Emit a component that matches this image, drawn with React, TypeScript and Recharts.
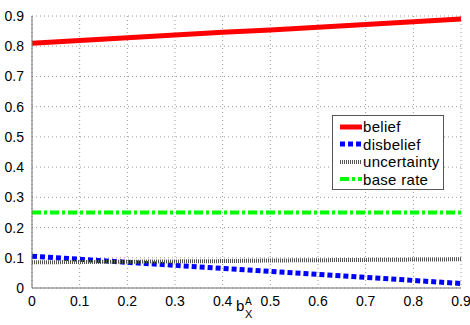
import { LineChart, Line, XAxis, YAxis, CartesianGrid } from 'recharts';

// x values (b_X^A)
const xValues = [0, 0.1, 0.2, 0.3, 0.4, 0.5, 0.6, 0.7, 0.8, 0.9];
const belief = [0.81, 0.819, 0.828, 0.837, 0.846, 0.854, 0.863, 0.872, 0.881, 0.89];
const disbelief = [0.105, 0.095, 0.085, 0.075, 0.065, 0.055, 0.045, 0.035, 0.025, 0.015];
const uncertainty = [0.085, 0.086, 0.087, 0.088, 0.089, 0.091, 0.092, 0.093, 0.094, 0.095];
const baseRate = [0.25, 0.25, 0.25, 0.25, 0.25, 0.25, 0.25, 0.25, 0.25, 0.25];

const xTicks = [0, 0.1, 0.2, 0.3, 0.4, 0.5, 0.6, 0.7, 0.8, 0.9];
const yTicks = [0, 0.1, 0.2, 0.3, 0.4, 0.5, 0.6, 0.7, 0.8, 0.9];

const FONT = 'Liberation Sans, Arial, sans-serif';
const AXIS_COLOR = '#707070';

const series = [
  { key: 'belief', label: 'belief', color: '#ff0000', dash: undefined as string | undefined, width: 5 },
  { key: 'disbelief', label: 'disbelief', color: '#0000ff', dash: '5 3', width: 5 },
  { key: 'uncertainty', label: 'uncertainty', color: '#555555', dash: '1 1', width: 4 },
  { key: 'baseRate', label: 'base rate', color: '#00ff00', dash: '9 3 3 3', width: 4 },
];

const data = xValues.map((x, i) => ({
  x,
  belief: belief[i],
  disbelief: disbelief[i],
  uncertainty: uncertainty[i],
  baseRate: baseRate[i],
}));

const fmt = (v: number) => (v === 0 ? '0' : String(Number(v.toFixed(1))));

// x axis title b_X^A, drawn over the chart
const XLabel = () => (
  <svg width={470} height={325} style={{ position: 'absolute', left: 0, top: 0, pointerEvents: 'none' }}>
    <g fontFamily={FONT} fill="#000">
      <text x={236} y={311} fontSize={15}>b</text>
      <text x={245} y={318} fontSize={11}>X</text>
      <text x={245} y={305} fontSize={10}>A</text>
    </g>
  </svg>
);

const LegendBox = () => (
  <div
    style={{
      position: 'absolute',
      left: 332,
      top: 115,
      width: 112,
      height: 75,
      border: '1px solid #555',
      background: '#fff',
      boxSizing: 'border-box',
      fontFamily: FONT,
      fontSize: 15,
      letterSpacing: 0.3,
      padding: '2px 0 0 7px',
    }}
  >
    {series.map((s) => (
      <div key={s.key} style={{ display: 'flex', alignItems: 'center', height: 17.5 }}>
        <svg width={22} height={8}>
          <line x1={0} y1={4} x2={22} y2={4} stroke={s.color} strokeWidth={s.width} strokeDasharray={s.dash} />
        </svg>
        <span style={{ marginLeft: 1 }}>{s.label}</span>
      </div>
    ))}
  </div>
);

export default function App() {
  return (
    <div style={{ position: 'absolute', left: 0, top: 0, width: 470, height: 325, background: '#fff' }}>
      <LineChart width={470} height={325} data={data} margin={{ top: 16, right: 9, left: 0, bottom: 0 }}>
        <CartesianGrid stroke="#9a9a9a" strokeDasharray="1 3" />
        <XAxis
          dataKey="x"
          type="number"
          domain={[0, 0.9]}
          ticks={xTicks}
          tickFormatter={fmt}
          height={37}
          tickLine={false}
          tickMargin={2}
          stroke={AXIS_COLOR}
          tick={{ fill: '#000', fontSize: 14, fontFamily: FONT }}
        />
        <XAxis xAxisId="top" orientation="top" dataKey="x" type="number" domain={[0, 0.9]} height={0} tick={false} tickLine={false} stroke={AXIS_COLOR} />
        <YAxis
          domain={[0, 0.9]}
          ticks={yTicks}
          tickFormatter={fmt}
          width={32}
          tickLine={false}
          tickMargin={2}
          stroke={AXIS_COLOR}
          tick={{ fill: '#000', fontSize: 14, fontFamily: FONT }}
        />
        <YAxis yAxisId="right" orientation="right" domain={[0, 0.9]} width={0} tick={false} tickLine={false} stroke={AXIS_COLOR} />
        {series.map((s) => (
          <Line
            key={s.key}
            dataKey={s.key}
            stroke={s.color}
            strokeWidth={s.width}
            strokeDasharray={s.dash}
            dot={false}
            activeDot={false}
            isAnimationActive={false}
          />
        ))}
      </LineChart>
      <XLabel />
      <LegendBox />
    </div>
  );
}
